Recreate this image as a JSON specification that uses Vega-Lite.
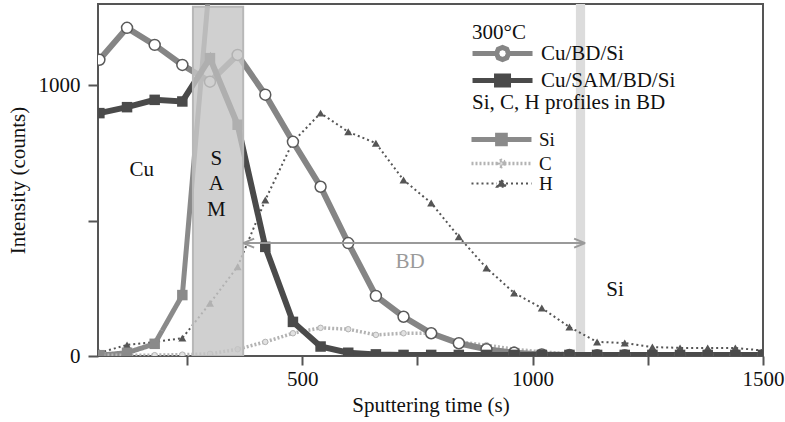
{
  "$schema": "https://vega.github.io/schema/vega-lite/v6.json",
  "width": 665,
  "height": 352,
  "autosize": {"type": "none"},
  "padding": {"left": 98, "top": 4, "right": 22, "bottom": 66},
  "background": "white",
  "config": {
    "view": {"stroke": "#555555", "strokeWidth": 2},
    "font": "Liberation Serif",
    "axis": {"grid": false, "domain": false, "tickColor": "#555555", "tickWidth": 2, "labelFontSize": 21, "labelColor": "#111111", "titleFontSize": 21, "titleFontWeight": "normal", "titleColor": "#111111", "labelFont": "Liberation Serif", "titleFont": "Liberation Serif"}
  },
  "datasets": {
    "profiles": [
      {"t": 60, "series": "Cu/BD/Si", "v": 1094}, {"t": 120, "series": "Cu/BD/Si", "v": 1212}, {"t": 180, "series": "Cu/BD/Si", "v": 1149}, {"t": 240, "series": "Cu/BD/Si", "v": 1075}, {"t": 300, "series": "Cu/BD/Si", "v": 1013}, {"t": 360, "series": "Cu/BD/Si", "v": 1112}, {"t": 420, "series": "Cu/BD/Si", "v": 965}, {"t": 480, "series": "Cu/BD/Si", "v": 791}, {"t": 540, "series": "Cu/BD/Si", "v": 625}, {"t": 600, "series": "Cu/BD/Si", "v": 417}, {"t": 660, "series": "Cu/BD/Si", "v": 222}, {"t": 720, "series": "Cu/BD/Si", "v": 145}, {"t": 780, "series": "Cu/BD/Si", "v": 84}, {"t": 840, "series": "Cu/BD/Si", "v": 47}, {"t": 900, "series": "Cu/BD/Si", "v": 25}, {"t": 960, "series": "Cu/BD/Si", "v": 12}, {"t": 1020, "series": "Cu/BD/Si", "v": 6}, {"t": 1080, "series": "Cu/BD/Si", "v": 4}, {"t": 1140, "series": "Cu/BD/Si", "v": 3}, {"t": 1200, "series": "Cu/BD/Si", "v": 3}, {"t": 1260, "series": "Cu/BD/Si", "v": 3}, {"t": 1320, "series": "Cu/BD/Si", "v": 3}, {"t": 1380, "series": "Cu/BD/Si", "v": 3}, {"t": 1440, "series": "Cu/BD/Si", "v": 3}, {"t": 1500, "series": "Cu/BD/Si", "v": 3},
      {"t": 60, "series": "Cu/SAM/BD/Si", "v": 897}, {"t": 120, "series": "Cu/SAM/BD/Si", "v": 919}, {"t": 180, "series": "Cu/SAM/BD/Si", "v": 946}, {"t": 240, "series": "Cu/SAM/BD/Si", "v": 940}, {"t": 300, "series": "Cu/SAM/BD/Si", "v": 1100}, {"t": 360, "series": "Cu/SAM/BD/Si", "v": 854}, {"t": 420, "series": "Cu/SAM/BD/Si", "v": 403}, {"t": 480, "series": "Cu/SAM/BD/Si", "v": 126}, {"t": 540, "series": "Cu/SAM/BD/Si", "v": 35}, {"t": 600, "series": "Cu/SAM/BD/Si", "v": 12}, {"t": 660, "series": "Cu/SAM/BD/Si", "v": 6}, {"t": 720, "series": "Cu/SAM/BD/Si", "v": 4}, {"t": 780, "series": "Cu/SAM/BD/Si", "v": 4}, {"t": 840, "series": "Cu/SAM/BD/Si", "v": 4}, {"t": 900, "series": "Cu/SAM/BD/Si", "v": 4}, {"t": 960, "series": "Cu/SAM/BD/Si", "v": 4}, {"t": 1020, "series": "Cu/SAM/BD/Si", "v": 4}, {"t": 1080, "series": "Cu/SAM/BD/Si", "v": 4}, {"t": 1140, "series": "Cu/SAM/BD/Si", "v": 4}, {"t": 1200, "series": "Cu/SAM/BD/Si", "v": 4}, {"t": 1260, "series": "Cu/SAM/BD/Si", "v": 4}, {"t": 1320, "series": "Cu/SAM/BD/Si", "v": 4}, {"t": 1380, "series": "Cu/SAM/BD/Si", "v": 4}, {"t": 1440, "series": "Cu/SAM/BD/Si", "v": 4}, {"t": 1500, "series": "Cu/SAM/BD/Si", "v": 4},
      {"t": 60, "series": "Si", "v": 3}, {"t": 120, "series": "Si", "v": 12}, {"t": 180, "series": "Si", "v": 45}, {"t": 240, "series": "Si", "v": 225}, {"t": 300, "series": "Si", "v": 1400},
      {"t": 60, "series": "C", "v": 3}, {"t": 120, "series": "C", "v": 3}, {"t": 180, "series": "C", "v": 3}, {"t": 240, "series": "C", "v": 5}, {"t": 300, "series": "C", "v": 8}, {"t": 360, "series": "C", "v": 25}, {"t": 420, "series": "C", "v": 52}, {"t": 480, "series": "C", "v": 84}, {"t": 540, "series": "C", "v": 104}, {"t": 600, "series": "C", "v": 99}, {"t": 660, "series": "C", "v": 78}, {"t": 720, "series": "C", "v": 84}, {"t": 780, "series": "C", "v": 84}, {"t": 840, "series": "C", "v": 52}, {"t": 900, "series": "C", "v": 40}, {"t": 960, "series": "C", "v": 25}, {"t": 1020, "series": "C", "v": 15}, {"t": 1080, "series": "C", "v": 8}, {"t": 1140, "series": "C", "v": 5}, {"t": 1200, "series": "C", "v": 5}, {"t": 1260, "series": "C", "v": 5}, {"t": 1320, "series": "C", "v": 5}, {"t": 1380, "series": "C", "v": 5}, {"t": 1440, "series": "C", "v": 5}, {"t": 1500, "series": "C", "v": 5},
      {"t": 60, "series": "H", "v": 12}, {"t": 120, "series": "H", "v": 41}, {"t": 180, "series": "H", "v": 52}, {"t": 240, "series": "H", "v": 66}, {"t": 300, "series": "H", "v": 195}, {"t": 360, "series": "H", "v": 330}, {"t": 420, "series": "H", "v": 576}, {"t": 480, "series": "H", "v": 791}, {"t": 540, "series": "H", "v": 897}, {"t": 600, "series": "H", "v": 828}, {"t": 660, "series": "H", "v": 786}, {"t": 720, "series": "H", "v": 650}, {"t": 780, "series": "H", "v": 565}, {"t": 840, "series": "H", "v": 440}, {"t": 900, "series": "H", "v": 325}, {"t": 960, "series": "H", "v": 233}, {"t": 1020, "series": "H", "v": 177}, {"t": 1080, "series": "H", "v": 107}, {"t": 1140, "series": "H", "v": 52}, {"t": 1200, "series": "H", "v": 48}, {"t": 1260, "series": "H", "v": 33}, {"t": 1320, "series": "H", "v": 30}, {"t": 1380, "series": "H", "v": 30}, {"t": 1440, "series": "H", "v": 30}, {"t": 1500, "series": "H", "v": 20}
    ],
    "regions": [
      {"name": "SAM", "x0": 263, "x1": 372, "y0": 0, "y1": 1290},
      {"name": "interface", "x0": 1094, "x1": 1114, "y0": 0, "y1": 1300}
    ],
    "labels": [
      {"label": "Cu", "x": 152, "y": 687},
      {"label": "S", "x": 314, "y": 726},
      {"label": "A", "x": 314, "y": 635},
      {"label": "M", "x": 314, "y": 541},
      {"label": "Si", "x": 1179, "y": 244}
    ],
    "bd": [{"label": "BD", "x": 734, "y": 347}],
    "arrowheads": [{"x": 372, "y": 417, "dir": "left"}, {"x": 1114, "y": 417, "dir": "right"}]
  },
  "layer": [
    {
      "data": {"name": "regions"},
      "transform": [{"filter": "datum.name === 'interface'"}],
      "mark": {"type": "rect", "fill": "#dcdcdc", "clip": true},
      "encoding": {
        "x": {"field": "x0", "type": "quantitative", "scale": {"domain": [57, 1500], "nice": false, "zero": false}},
        "x2": {"field": "x1"},
        "y": {"field": "y0", "type": "quantitative", "scale": {"domain": [0, 1300], "nice": false}},
        "y2": {"field": "y1"}
      }
    },
    {
      "data": {"name": "profiles"},
      "transform": [{"filter": "datum.series === 'Si' || datum.series === 'C' || datum.series === 'H'"}],
      "mark": {"type": "line", "clip": true},
      "encoding": {
        "x": {"field": "t", "type": "quantitative", "title": "Sputtering time (s)",
          "axis": {"values": [250, 500, 750, 1000, 1250, 1500], "format": "d", "labelExpr": "datum.value % 500 === 0 ? datum.label : ''", "tickSize": 9, "labelPadding": 3, "titlePadding": 5, "labelFlush": false}},
        "y": {"field": "v", "type": "quantitative", "title": "Intensity (counts)",
          "axis": {"values": [0, 500, 1000], "format": "d", "labelExpr": "datum.value === 500 ? '' : datum.label", "tickSize": 10, "labelPadding": 8, "titlePadding": 10}},
        "color": {"field": "series", "type": "nominal",
          "scale": {"domain": ["Si", "C", "H"], "range": ["#8a8a8a", "#b3b3b3", "#555555"]},
          "legend": {
            "title": "Si, C, H profiles in BD", "orient": "none", "legendX": 374, "legendY": 88,
            "titleFont": "Liberation Serif", "titleFontSize": 21, "titleFontWeight": "normal", "titleColor": "#111111", "titlePadding": 17, "titleLimit": 400,
            "labelFont": "Liberation Serif", "labelFontSize": 19, "labelColor": "#111111", "labelOffset": 48, "labelLimit": 300,
            "symbolSize": 196, "rowPadding": -8,
            "encode": {"symbols": {"update": {
              "shape": {"signal": "datum.value === 'Si' ? 'M-1.43,0L7.14,0M2.3,-0.6L3.4,-0.6L3.4,0.6L2.3,0.6Z' : datum.value === 'C' ? 'M-1.43,0L2.42,0M3.28,0L7.14,0M3.28,0L3.15,0.3L2.85,0.43L2.55,0.3L2.42,0L2.55,-0.3L2.85,-0.43L3.15,-0.3Z' : 'M-1.43,0L2.2,0M3.5,0L7.14,0M2.2,0.48L2.85,-0.6L3.5,0.48Z'"},
              "stroke": {"signal": "datum.value === 'Si' ? '#8a8a8a' : datum.value === 'C' ? '#b3b3b3' : '#555555'"},
              "fill": {"signal": "datum.value === 'Si' ? '#8a8a8a' : datum.value === 'C' ? '#e0e0e0' : '#555555'"},
              "strokeWidth": {"signal": "datum.value === 'Si' ? 5 : 1.8"},
              "strokeDash": {"signal": "datum.value === 'Si' ? [] : [2, 2]"},
              "opacity": {"value": 1}
            }}}
          }},
        "strokeWidth": {"field": "series", "type": "nominal", "scale": {"domain": ["Si", "C", "H"], "range": [5, 2, 2]}, "legend": null},
        "strokeDash": {"field": "series", "type": "nominal", "scale": {"domain": ["Si", "C", "H"], "range": [[1, 0], [2, 2], [2, 3]]}, "legend": null}
      }
    },
    {
      "data": {"name": "profiles"},
      "transform": [{"filter": "datum.series === 'C'"}],
      "mark": {"type": "point", "shape": "circle", "size": 30, "filled": true, "fill": "#e2e2e2", "stroke": "#b3b3b3", "strokeWidth": 1, "opacity": 1, "clip": true},
      "encoding": {"x": {"field": "t", "type": "quantitative"}, "y": {"field": "v", "type": "quantitative"}}
    },
    {
      "data": {"name": "profiles"},
      "transform": [{"filter": "datum.series === 'H'"}],
      "mark": {"type": "point", "shape": "triangle-up", "size": 65, "filled": true, "fill": "#555555", "opacity": 1, "clip": true},
      "encoding": {"x": {"field": "t", "type": "quantitative"}, "y": {"field": "v", "type": "quantitative"}}
    },
    {
      "data": {"name": "profiles"},
      "transform": [{"filter": "datum.series === 'Si'"}],
      "mark": {"type": "point", "shape": "square", "size": 110, "filled": true, "fill": "#8a8a8a", "opacity": 1, "clip": true},
      "encoding": {"x": {"field": "t", "type": "quantitative"}, "y": {"field": "v", "type": "quantitative"}}
    },
    {
      "data": {"name": "profiles"},
      "transform": [{"filter": "datum.series === 'Cu/BD/Si' || datum.series === 'Cu/SAM/BD/Si'"}],
      "mark": {"type": "line", "strokeWidth": 6, "clip": true},
      "encoding": {
        "x": {"field": "t", "type": "quantitative"},
        "y": {"field": "v", "type": "quantitative"},
        "color": {"field": "series", "type": "nominal",
          "scale": {"domain": ["Cu/BD/Si", "Cu/SAM/BD/Si"], "range": ["#858585", "#4a4a4a"]},
          "legend": {
            "title": "300°C", "orient": "none", "legendX": 374, "legendY": 18,
            "titleFont": "Liberation Serif", "titleFontSize": 21, "titleFontWeight": "normal", "titleColor": "#111111", "titlePadding": 0,
            "labelFont": "Liberation Serif", "labelFontSize": 21, "labelColor": "#111111", "labelOffset": 48, "labelLimit": 300,
            "symbolSize": 225, "rowPadding": -7,
            "encode": {"symbols": {"update": {
              "shape": {"signal": "datum.value === 'Cu/BD/Si' ? 'M-1.33,0L1.87,0M3.47,0L6.67,0M3.47,0L3.236,0.566L2.67,0.8L2.104,0.566L1.87,0L2.104,-0.566L2.67,-0.8L3.236,-0.566Z' : 'M-1.33,0L6.67,0M1.87,-0.6L3.47,-0.6L3.47,0.6L1.87,0.6Z'"},
              "stroke": {"signal": "datum.value === 'Cu/BD/Si' ? '#858585' : '#4a4a4a'"},
              "fill": {"signal": "datum.value === 'Cu/BD/Si' ? '#ffffff' : '#4a4a4a'"},
              "strokeWidth": {"value": 5},
              "opacity": {"value": 1}
            }}}
          }}
      }
    },
    {
      "data": {"name": "profiles"},
      "transform": [{"filter": "datum.series === 'Cu/BD/Si'"}],
      "mark": {"type": "point", "shape": "circle", "size": 120, "filled": true, "fill": "#ffffff", "stroke": "#5a5a5a", "strokeWidth": 1.5, "opacity": 1, "clip": true},
      "encoding": {"x": {"field": "t", "type": "quantitative"}, "y": {"field": "v", "type": "quantitative"}}
    },
    {
      "data": {"name": "profiles"},
      "transform": [{"filter": "datum.series === 'Cu/SAM/BD/Si'"}],
      "mark": {"type": "point", "shape": "square", "size": 110, "filled": true, "fill": "#4a4a4a", "opacity": 1, "clip": true},
      "encoding": {"x": {"field": "t", "type": "quantitative"}, "y": {"field": "v", "type": "quantitative"}}
    },
    {
      "data": {"name": "regions"},
      "transform": [{"filter": "datum.name === 'SAM'"}],
      "mark": {"type": "rect", "fill": "#c6c6c6", "fillOpacity": 0.82, "stroke": "#b8b8b8", "strokeWidth": 2, "clip": true},
      "encoding": {
        "x": {"field": "x0", "type": "quantitative"},
        "x2": {"field": "x1"},
        "y": {"field": "y0", "type": "quantitative"},
        "y2": {"field": "y1"}
      }
    },
    {
      "data": {"name": "labels"},
      "mark": {"type": "text", "font": "Liberation Serif", "fontSize": 21, "color": "#111111", "align": "center", "baseline": "middle"},
      "encoding": {"x": {"field": "x", "type": "quantitative"}, "y": {"field": "y", "type": "quantitative"}, "text": {"field": "label"}}
    },
    {
      "data": {"name": "bd"},
      "mark": {"type": "text", "font": "Liberation Serif", "fontSize": 21, "color": "#9a9a9a", "align": "center", "baseline": "middle"},
      "encoding": {"x": {"field": "x", "type": "quantitative"}, "y": {"field": "y", "type": "quantitative"}, "text": {"field": "label"}}
    },
    {
      "data": {"name": "arrowheads"},
      "mark": {"type": "rule", "color": "#9a9a9a", "strokeWidth": 2},
      "encoding": {"x": {"aggregate": "min", "field": "x", "type": "quantitative"}, "x2": {"aggregate": "max", "field": "x"}, "y": {"aggregate": "mean", "field": "y", "type": "quantitative"}}
    },
    {
      "data": {"name": "arrowheads"},
      "mark": {"type": "point", "filled": false, "size": 100, "strokeWidth": 2, "stroke": "#9a9a9a", "opacity": 1},
      "encoding": {
        "x": {"field": "x", "type": "quantitative"},
        "y": {"field": "y", "type": "quantitative"},
        "shape": {"field": "dir", "type": "nominal", "scale": {"domain": ["left", "right"], "range": ["M0,0L2.2,-0.9M0,0L2.2,0.9", "M0,0L-2.2,-0.9M0,0L-2.2,0.9"]}, "legend": null}
      }
    }
  ],
  "resolve": {"scale": {"color": "independent", "strokeWidth": "independent", "strokeDash": "independent", "shape": "independent"}}
}
